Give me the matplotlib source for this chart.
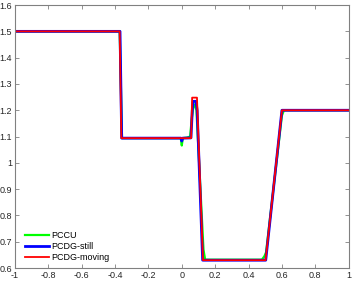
import matplotlib
matplotlib.use("Agg")
import matplotlib.pyplot as plt
from matplotlib.ticker import FormatStrFormatter

plt.rcParams["font.family"] = ["Liberation Sans", "DejaVu Sans"]

# values
x_pccu = [-1, -0.372, -0.358, -0.006, 0.0, 0.006, 0.03, 0.05, 0.06, 0.07, 0.078,
          0.088, 0.13, 0.14, 0.48, 0.495, 0.505, 0.6, 0.612, 1]
y_pccu = [1.5, 1.5, 1.094, 1.094, 1.066, 1.094, 1.096, 1.10, 1.17, 1.215, 1.222,
          1.20, 0.67, 0.632, 0.632, 0.645, 0.66, 1.18, 1.2, 1.2]

x_still = [-1, -0.370, -0.360, -0.005, 0.0, 0.005, 0.055, 0.063, 0.068, 0.085,
           0.092, 0.125, 0.503, 0.600, 1]
y_still = [1.5, 1.5, 1.094, 1.094, 1.083, 1.094, 1.095, 1.2, 1.234, 1.234,
           1.2, 0.63, 0.63, 1.2, 1.2]

x_moving = [-1, -0.372, -0.362, 0.056, 0.062, 0.091, 0.127, 0.502, 0.600, 1]
y_moving = [1.5, 1.5, 1.094, 1.094, 1.248, 1.248, 0.63, 0.63, 1.2, 1.2]

xticks = [-1, -0.8, -0.6, -0.4, -0.2, 0, 0.2, 0.4, 0.6, 0.8, 1]
yticks = [0.6, 0.7, 0.8, 0.9, 1, 1.1, 1.2, 1.3, 1.4, 1.5, 1.6]

fig = plt.figure(figsize=(3.54, 2.81), dpi=100)
ax = fig.add_axes([0.042, 0.046, 0.943, 0.936])

ax.plot(x_pccu, y_pccu, color=(0, 1, 0), lw=1.6, label="PCCU")
ax.plot(x_still, y_still, color=(0, 0, 1), lw=2.0, label="PCDG-still")
ax.plot(x_moving, y_moving, color=(1, 0, 0), lw=1.3, label="PCDG-moving")

ax.set_xlim(-1, 1)
ax.set_ylim(0.6, 1.6)
ax.set_xticks(xticks)
ax.set_yticks(yticks)
ax.xaxis.set_major_formatter(FormatStrFormatter("%g"))
ax.yaxis.set_major_formatter(FormatStrFormatter("%g"))
ax.tick_params(direction="in", length=3, width=0.6, labelsize=6.5,
               colors="#808080", labelcolor="#262626", pad=2,
               top=True, right=True)
for s in ax.spines.values():
    s.set_color("#808080")
    s.set_linewidth(0.8)

leg = ax.legend(loc="lower left", frameon=False, fontsize=6.5, handlelength=2.6,
                handletextpad=0.3, labelspacing=0.2, borderaxespad=0.3,
                bbox_to_anchor=(0.012, 0.0))

plt.savefig("out.png", dpi=100)
plt.close()
